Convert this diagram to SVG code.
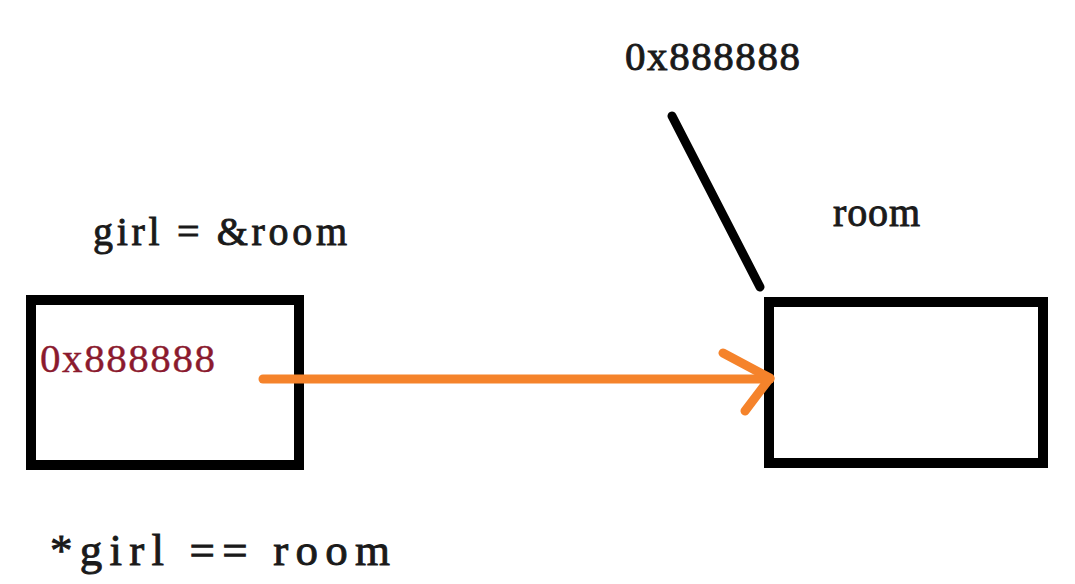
<svg xmlns="http://www.w3.org/2000/svg" width="1075" height="584" viewBox="0 0 1075 584">
<style>
.box{fill:none;stroke:#000;stroke-width:10}
.t{font-family:"Liberation Serif","Times New Roman",serif;fill:#1a1a1a;stroke:#1a1a1a;stroke-width:0.9}
.ptr{fill:none;stroke:#F5832B;stroke-width:9;stroke-linecap:round;stroke-linejoin:round}
</style>
<rect width="1075" height="584" fill="#fff"/>
<g id="girl">
<rect class="box" x="31" y="300" width="268" height="165"/>
<text class="t" x="93" y="245" font-size="40" textLength="254" lengthAdjust="spacing">girl = &amp;room</text>
<text class="t" x="40" y="372" font-size="41" textLength="175" lengthAdjust="spacing" style="fill:#8B1A2E;stroke:#8B1A2E;stroke-width:0.4">0x888888</text>
</g>
<g id="room">
<rect class="box" x="769" y="302" width="274" height="161"/>
<text class="t" x="833" y="226" font-size="40" textLength="87" lengthAdjust="spacing">room</text>
</g>
<g id="address">
<text class="t" x="625" y="70" font-size="41" textLength="175" lengthAdjust="spacing">0x888888</text>
</g>
<g id="expr">
<text class="t" x="50" y="565" font-size="45" textLength="340" lengthAdjust="spacing">*girl == room</text>
</g>
<g id="connectors">
<line x1="672" y1="116" x2="760" y2="287" stroke="#000" stroke-width="9" stroke-linecap="round"/>
<path class="ptr" d="M263 379 H770"/>
<path class="ptr" d="M723 353 L770 378 L745 411"/>
</g>
</svg>
